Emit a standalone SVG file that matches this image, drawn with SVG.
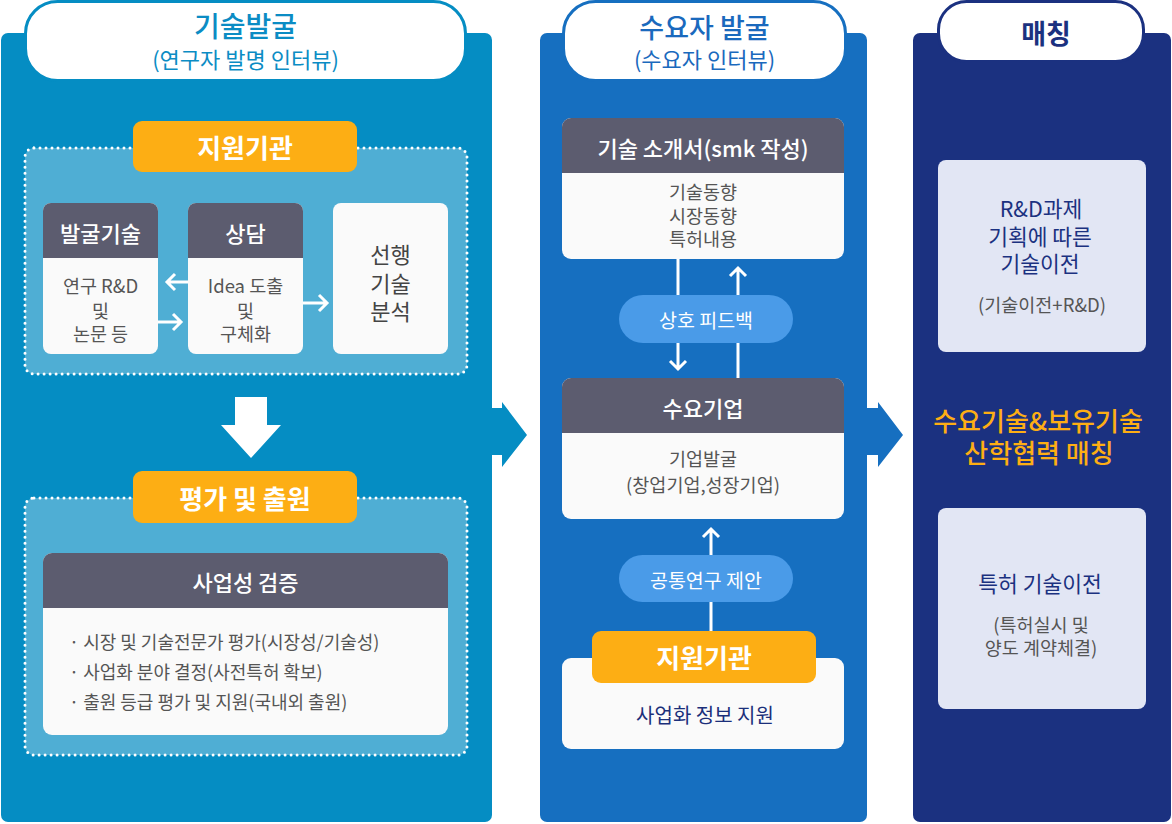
<svg xmlns="http://www.w3.org/2000/svg" width="1172" height="824" viewBox="0 0 1172 824">
<style>
text{font-family:"Noto Sans CJK KR","Noto Sans",sans-serif;text-anchor:middle;dominant-baseline:central}
.hdr{fill:#5c5c6f}
.body{fill:#fafafa}
.bt{fill:#555555;font-size:18.5px}
.bl{fill:#555555;font-size:18px;text-anchor:start}
.ht{fill:#ffffff;font-size:22px;font-weight:500}
.org{fill:#fdae14}
.ot{fill:#ffffff;font-size:26px;font-weight:700}
.dot{fill:#4faed4;stroke:#ffffff;stroke-width:3;stroke-dasharray:0 6;stroke-linecap:round}
.pill{fill:#4a9be8}
.pt{fill:#ffffff;font-size:19.5px}
.ln{stroke:#ffffff;stroke-width:3;fill:none}
.rb{fill:#e2e6f4}
.rt{fill:#1b3180;font-size:21.5px}
</style>
<rect width="1172" height="824" fill="#ffffff"/>

<g id="panel-left">
  <rect x="1" y="33" width="491" height="789" rx="7" fill="#058dc3"/>
  <rect x="25.5" y="1.5" width="440" height="79" rx="32" fill="#ffffff" stroke="#058dc3" stroke-width="3"/>
  <text x="245.5" y="25" style="font-size:28px;font-weight:500;fill:#0b8cc4">기술발굴</text>
  <text x="245.5" y="58" style="font-size:22px;fill:#0b8cc4">(연구자 발명 인터뷰)</text>
</g>

<g id="group-support-left">
  <rect class="dot" x="25" y="148" width="442" height="226" rx="9"/>
  <rect class="org" x="133" y="121" width="224" height="51" rx="9"/>
  <text class="ot" x="245" y="146">지원기관</text>
</g>

<g id="node-balgul">
  <rect class="body" x="43" y="203" width="115" height="151" rx="8"/>
  <path class="hdr" d="M43 258V211a8 8 0 0 1 8-8h99a8 8 0 0 1 8 8v47z"/>
  <text class="ht" x="100.5" y="232">발굴기술</text>
  <text class="bt" x="100.5" y="285">연구 R&amp;D</text>
  <text class="bt" x="100.5" y="310">및</text>
  <text class="bt" x="100.5" y="333">논문 등</text>
</g>

<g id="node-sangdam">
  <rect class="body" x="188" y="203" width="115" height="151" rx="8"/>
  <path class="hdr" d="M188 258V211a8 8 0 0 1 8-8h99a8 8 0 0 1 8 8v47z"/>
  <text class="ht" x="245.5" y="232">상담</text>
  <text class="bt" x="245.5" y="285">Idea 도출</text>
  <text class="bt" x="245.5" y="310">및</text>
  <text class="bt" x="245.5" y="333">구체화</text>
</g>

<g id="node-prior">
  <rect class="body" x="333" y="203" width="115" height="151" rx="8"/>
  <text x="390.5" y="253" style="font-size:22px;fill:#444444">선행</text>
  <text x="390.5" y="282" style="font-size:22px;fill:#444444">기술</text>
  <text x="390.5" y="310" style="font-size:22px;fill:#444444">분석</text>
</g>

<g id="group-eval">
  <rect class="dot" x="25" y="498" width="442" height="257" rx="9"/>
  <rect class="org" x="133" y="471" width="224" height="52" rx="9"/>
  <text class="ot" x="245" y="497">평가 및 출원</text>
</g>

<g id="node-business">
  <rect class="body" x="43" y="553" width="405" height="182" rx="9"/>
  <path class="hdr" d="M43 608V562a9 9 0 0 1 9-9h387a9 9 0 0 1 9 9v46z"/>
  <text class="ht" x="245.5" y="581">사업성 검증</text>
  <text class="bl" x="69" y="641">· 시장 및 기술전문가 평가(시장성/기술성)</text>
  <text class="bl" x="69" y="671">· 사업화 분야 결정(사전특허 확보)</text>
  <text class="bl" x="69" y="701">· 출원 등급 평가 및 지원(국내외 출원)</text>
</g>

<g id="panel-middle">
  <rect x="540" y="33" width="327" height="789" rx="7" fill="#166fc0"/>
  <rect x="563.5" y="1.5" width="282" height="79" rx="32" fill="#ffffff" stroke="#166fc0" stroke-width="3"/>
  <text x="704.5" y="26" style="font-size:27px;font-weight:500;fill:#1a69bd">수요자 발굴</text>
  <text x="704.5" y="58" style="font-size:22px;fill:#1a69bd">(수요자 인터뷰)</text>
</g>

<g id="node-intro">
  <rect class="body" x="562" y="118" width="282" height="141" rx="9"/>
  <path class="hdr" d="M562 173V127a9 9 0 0 1 9-9h264a9 9 0 0 1 9 9v46z"/>
  <text class="ht" x="703" y="147">기술 소개서(smk 작성)</text>
  <text class="bt" x="703" y="191">기술동향</text>
  <text class="bt" x="703" y="215">시장동향</text>
  <text class="bt" x="703" y="238">특허내용</text>
</g>

<g id="node-demand">
  <rect class="body" x="562" y="378" width="282" height="141" rx="9"/>
  <path class="hdr" d="M562 433V387a9 9 0 0 1 9-9h264a9 9 0 0 1 9 9v46z"/>
  <text class="ht" x="703" y="407">수요기업</text>
  <text class="bt" x="703" y="458">기업발굴</text>
  <text class="bt" x="703" y="484">(창업기업,성장기업)</text>
</g>

<g id="node-support-mid">
  <rect class="body" x="562" y="658" width="282" height="91" rx="9"/>
  <rect class="org" x="592" y="631" width="224" height="52" rx="9"/>
  <text class="ot" x="704" y="656">지원기관</text>
  <text x="705" y="714" style="font-size:20px;fill:#1b2f7a">사업화 정보 지원</text>
</g>

<g id="panel-right">
  <rect x="913" y="33" width="258" height="789" rx="7" fill="#1b3180"/>
  <rect x="938.5" y="1.5" width="205" height="60" rx="28" fill="#ffffff" stroke="#1b3180" stroke-width="3"/>
  <text x="1046" y="32" style="font-size:27px;font-weight:700;fill:#1b3180">매칭</text>
</g>

<g id="node-rd">
  <rect class="rb" x="938" y="160" width="208" height="192" rx="8"/>
  <text class="rt" x="1041" y="207">R&amp;D과제</text>
  <text class="rt" x="1040" y="235">기획에 따른</text>
  <text class="rt" x="1040" y="262">기술이전</text>
  <text class="bt" x="1042" y="304">(기술이전+R&amp;D)</text>
</g>

<g id="label-match">
  <text x="1038" y="419" style="font-size:26px;font-weight:500;fill:#fdae14">수요기술&amp;보유기술</text>
  <text x="1039" y="451" style="font-size:26px;font-weight:500;fill:#fdae14">산학협력 매칭</text>
</g>

<g id="node-patent">
  <rect class="rb" x="938" y="508" width="208" height="201" rx="8"/>
  <text class="rt" x="1040" y="582">특허 기술이전</text>
  <text class="bt" x="1041" y="624">(특허실시 및</text>
  <text class="bt" x="1041" y="647">양도 계약체결)</text>
</g>

<g id="connectors">
  <path class="ln" d="M188 282H167M175 274l-8 8 8 8"/>
  <path class="ln" d="M158 322H181M173 314l8 8-8 8"/>
  <path class="ln" d="M303 303H327M319 295l8 8-8 8"/>
  <path d="M235 397H267V425H281L251 458 221 425H235z" fill="#ffffff"/>
  <path d="M492 408H502V402L527 435 502 467V455H492z" fill="#058dc3"/>
  <path d="M867 408H878V402L903 435 878 467V455H867z" fill="#166fc0"/>
  <path class="ln" d="M678 259V369M670 361l8 8 8-8"/>
  <path class="ln" d="M738 378V268M730 276l8-8 8 8"/>
  <path class="ln" d="M711 631V529M703 537l8-8 8 8"/>
  <g id="pill-feedback">
    <rect class="pill" x="619" y="295" width="174" height="48" rx="24"/>
    <text class="pt" x="706" y="319">상호 피드백</text>
  </g>
  <g id="pill-joint">
    <rect class="pill" x="619" y="555" width="174" height="47" rx="23.5"/>
    <text class="pt" x="706" y="579">공통연구 제안</text>
  </g>
</g>
</svg>
